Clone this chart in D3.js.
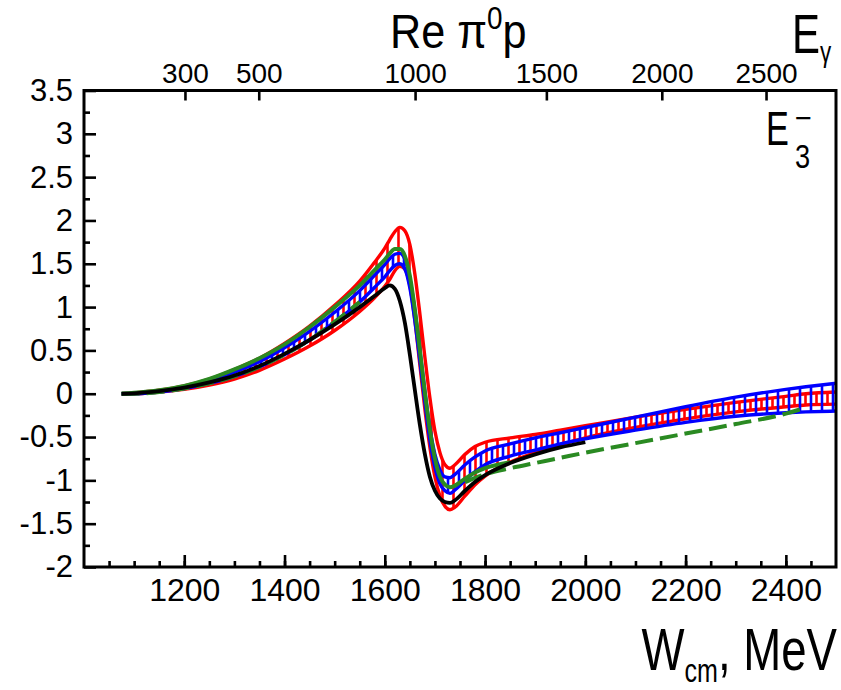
<!DOCTYPE html>
<html><head><meta charset="utf-8">
<script src="https://cdn.jsdelivr.net/npm/d3@7/dist/d3.min.js"></script>
<style>
html,body{margin:0;padding:0;background:#fff;}
svg text{font-family:"Liberation Sans",Arial,Helvetica,sans-serif;fill:#000;}
</style></head>
<body>
<svg id="chart" width="841" height="690"></svg>
<script>
// ---- data ----
const W = [1075,1100,1150,1200,1250,1300,1350,1400,1450,1500,
           1550,1580,1600,1610,1620,1630,1640,1650,1660,1670,
           1680,1690,1700,1710,1720,1730,1740,1760,1780,1800,
           1850,1900,1950,2000,2100,2200,2300,2400,2440,2500];
const blackLine = [0,0.005,0.03,0.07,0.13,0.21,0.32,0.46,0.62,0.80,
           1.00,1.13,1.22,1.25,1.21,1.07,0.82,0.45,0.04,-0.36,
           -0.70,-0.96,-1.12,-1.21,-1.25,-1.26,-1.23,-1.12,-1.02,-0.94,
           -0.80,-0.70,-0.62,-0.56,null,null,null,null,null,null];
const redUpper = [0,0.01,0.04,0.09,0.17,0.28,0.41,0.58,0.78,1.02,
           1.30,1.52,1.68,1.78,1.87,1.92,1.88,1.72,1.38,0.92,
           0.42,-0.05,-0.43,-0.68,-0.82,-0.86,-0.82,-0.70,-0.61,-0.56,
           -0.51,-0.47,-0.42,-0.37,-0.27,-0.18,-0.10,-0.03,0.00,0.02];
const redLower = [0,0,0.02,0.05,0.10,0.17,0.27,0.40,0.55,0.73,
           0.95,1.11,1.24,1.32,1.42,1.47,1.44,1.25,0.85,0.33,
           -0.18,-0.62,-0.96,-1.18,-1.30,-1.34,-1.31,-1.18,-1.05,-0.95,
           -0.79,-0.68,-0.59,-0.51,-0.39,-0.29,-0.21,-0.15,-0.13,-0.12];
const blueUpper = [0,0.005,0.03,0.08,0.15,0.25,0.37,0.53,0.72,0.94,
           1.19,1.37,1.49,1.56,1.61,1.62,1.55,1.33,0.96,0.50,
           0.03,-0.40,-0.70,-0.88,-0.96,-0.97,-0.93,-0.82,-0.73,-0.66,
           -0.58,-0.51,-0.45,-0.39,-0.27,-0.15,-0.04,0.05,0.08,0.12];
const blueLower = [0,0,0.02,0.06,0.12,0.20,0.31,0.45,0.62,0.83,
           1.06,1.23,1.35,1.42,1.48,1.50,1.44,1.22,0.84,0.38,
           -0.10,-0.54,-0.85,-1.04,-1.12,-1.15,-1.11,-1.00,-0.90,-0.82,
           -0.72,-0.65,-0.58,-0.52,-0.42,-0.33,-0.26,-0.22,-0.21,-0.20];
const greenSolid = [0,0.01,0.04,0.09,0.17,0.28,0.41,0.57,0.77,1.00,
           1.25,1.43,1.55,1.62,1.67,1.67,1.59,1.36,0.97,0.50,
           0.01,-0.42,-0.75,-0.96,-1.05,-1.08,-1.06,-0.98,-0.91,-0.86,
           -0.79,null,null,null,null,null,null,null,null,null];
const greenDashed = [0,0,0.02,0.06,0.12,0.20,0.31,0.45,0.62,0.83,
           1.06,null,null,null,null,null,null,null,null,null,
           null,null,null,null,null,null,null,-1.02,-0.97,-0.93,
           -0.86,-0.80,-0.74,-0.68,-0.57,-0.46,-0.35,-0.23,-0.16,null];

const xMajor = [1200,1400,1600,1800,2000,2200,2400];
const xMinor = d3.range(1050,2500,50);
const yMajor = [-2,-1.5,-1,-0.5,0,0.5,1,1.5,2,2.5,3,3.5];
const yMinor = d3.range(-1.75,3.5,0.5);
const eGamma = [300,500,1000,1500,2000,2500];
const eGammaLabels = ["300","500","1000","1500","2000","2500"];
const protonMass = 938.27;

// ---- layout ----
const L = 84, R = 836, T = 90.5, B = 567;
const svg = d3.select("#chart");
const x = d3.scaleLinear().domain([1000,2500]).range([L,R]);
const y = d3.scaleLinear().domain([-2,3.5]).range([B,T]);

const defs = svg.append("defs");
defs.append("clipPath").attr("id","plotclip").append("rect")
  .attr("x",L).attr("y",T).attr("width",R-L).attr("height",B-T);
function hatch(id,color,off){
  const p = defs.append("pattern").attr("id",id).attr("patternUnits","userSpaceOnUse")
    .attr("width",11).attr("height",10);
  p.append("line").attr("x1",off).attr("x2",off).attr("y1",-1).attr("y2",11)
    .attr("stroke",color).attr("stroke-width",2.6);
}
hatch("hRed","#ff0000",2.5);
hatch("hBlue","#0000ff",8);

const plot = svg.append("g").attr("clip-path","url(#plotclip)");
const pts = arr => W.map((w,i)=>({w, v:arr[i]}));
const line = d3.line().defined(d=>d.v!==null).x(d=>x(d.w)).y(d=>y(d.v)).curve(d3.curveMonotoneX);
function band(up,lo,pid,color){
  const data = W.map((w,i)=>({w,u:up[i],l:lo[i]}));
  plot.append("path").datum(data)
    .attr("d", d3.area().x(d=>x(d.w)).y0(d=>y(d.l)).y1(d=>y(d.u)).curve(d3.curveMonotoneX))
    .attr("fill",`url(#${pid})`).attr("stroke","none");
  [up,lo].forEach(a=>plot.append("path").datum(pts(a)).attr("d",line)
    .attr("fill","none").attr("stroke",color).attr("stroke-width",3.4).attr("stroke-linejoin","round"));
}
band(redUpper,redLower,"hRed","#ff0000");
band(blueUpper,blueLower,"hBlue","#0000ff");
plot.append("path").datum(pts(greenDashed)).attr("d",line).attr("fill","none")
  .attr("stroke","#2a8a22").attr("stroke-width",4).attr("stroke-dasharray","18,7");
plot.append("path").datum(pts(greenSolid)).attr("d",line).attr("fill","none")
  .attr("stroke","#2a8a22").attr("stroke-width",4).attr("stroke-linejoin","round");
plot.append("path").datum(pts(blackLine)).attr("d",line).attr("fill","none")
  .attr("stroke","#000").attr("stroke-width",3.8).attr("stroke-linejoin","round");

// ---- axes ----
function styleAxis(g,fs){
  g.select(".domain").remove();
  g.selectAll(".tick line").attr("stroke","#000").attr("stroke-width",2.6);
  g.selectAll(".tick text").attr("font-size",fs).attr("fill","#000")
    .style("font-family",'"Liberation Sans",Arial,sans-serif');
}
const gxMin = svg.append("g").attr("transform",`translate(0,${B})`)
  .call(d3.axisBottom(x).tickValues(xMinor).tickSize(-6).tickFormat(""));
styleAxis(gxMin,0);
const gx = svg.append("g").attr("transform",`translate(0,${B})`)
  .call(d3.axisBottom(x).tickValues(xMajor).tickSize(-12).tickPadding(11).tickFormat(d3.format("d")));
styleAxis(gx,32);

const gyMin = svg.append("g").attr("transform",`translate(${L},0)`)
  .call(d3.axisLeft(y).tickValues(yMinor).tickSize(-6).tickFormat(""));
styleAxis(gyMin,0);
const gy = svg.append("g").attr("transform",`translate(${L},0)`)
  .call(d3.axisLeft(y).tickValues(yMajor).tickSize(-12).tickPadding(11).tickFormat(d=>String(d)));
styleAxis(gy,31);

const topW = eGamma.map(E=>Math.sqrt(protonMass*protonMass+2*protonMass*E));
const gt = svg.append("g").attr("transform",`translate(0,${T})`)
  .call(d3.axisTop(x).tickValues(topW).tickSize(-10).tickPadding(8).tickFormat((d,i)=>eGammaLabels[i]));
styleAxis(gt,28);

// frame
svg.append("rect").attr("x",L).attr("y",T).attr("width",R-L).attr("height",B-T)
  .attr("fill","none").attr("stroke","#000").attr("stroke-width",3);

// ---- titles ----
const t1 = svg.append("g").attr("transform","translate(390,48) scale(0.9,1)")
  .append("text").attr("font-size",48);
t1.append("tspan").text("Re π");
t1.append("tspan").attr("font-size",31).attr("dy",-19).text("0");
t1.append("tspan").attr("font-size",48).attr("dy",19).text("p");

const t2 = svg.append("g").attr("transform","translate(837,670) scale(0.76,1)")
  .append("text").attr("font-size",60).attr("text-anchor","end");
t2.append("tspan").text("W");
t2.append("tspan").attr("font-size",33).attr("dy",12).text("cm");
t2.append("tspan").attr("font-size",60).attr("dy",-12).text(", MeV");

const t3 = svg.append("g").attr("transform","translate(792,53) scale(0.75,1)")
  .append("text").attr("font-size",56);
t3.append("tspan").text("E");
t3.append("tspan").attr("font-size",30).attr("dy",9).text("γ");

svg.append("g").attr("transform","translate(766,145) scale(0.7,1)")
  .append("text").attr("font-size",49).text("E");
svg.append("g").attr("transform","translate(795,168) scale(0.8,1)")
  .append("text").attr("font-size",34).text("3");
svg.append("g").attr("transform","translate(795,128)")
  .append("text").attr("font-size",29).text("−");
</script>
</body></html>
